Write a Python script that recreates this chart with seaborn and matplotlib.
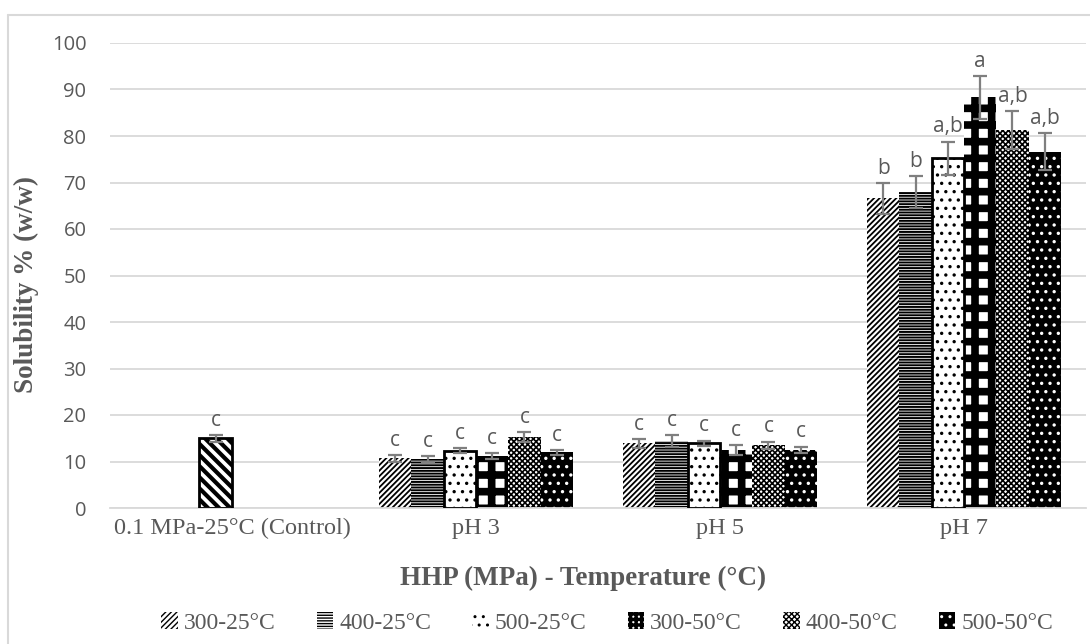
import matplotlib
matplotlib.use("Agg")
import matplotlib.pyplot as plt
import matplotlib.lines as mlines
import matplotlib.patches as mpatches
import seaborn as sns
import pandas as pd
import numpy as np

# ---------------- data ----------------
categories = ["0.1 MPa-25°C (Control)", "pH 3", "pH 5", "pH 7"]
treatments = ["300-25°C", "400-25°C", "500-25°C", "300-50°C", "400-50°C", "500-50°C"]

control_series = ["Control", "(empty)"]
control_value = [15.0]
control_err = [0.7]
control_letter = ["c"]

ph3 = [10.7, 10.5, 12.3, 11.2, 15.3, 12.0]
ph3_err = [0.7, 0.6, 0.5, 0.6, 1.0, 0.5]
ph3_letters = ["c", "c", "c", "c", "c", "c"]

ph5 = [13.9, 14.4, 13.9, 12.5, 13.5, 12.5]
ph5_err = [0.9, 1.3, 0.6, 1.0, 0.8, 0.7]
ph5_letters = ["c", "c", "c", "c", "c", "c"]

ph7 = [66.6, 68.0, 75.2, 88.3, 81.3, 76.6]
ph7_err = [3.3, 3.4, 3.6, 4.6, 4.1, 4.0]
ph7_letters = ["b", "b", "a,b", "a", "a,b", "a,b"]

yticks = [0, 10, 20, 30, 40, 50, 60, 70, 80, 90, 100]

# ---------------- styles ----------------
GRAY_TXT = "#595959"
GRID = "#d9d9d9"
ERR = "#7f7f7f"
SERIF = ["Liberation Serif", "DejaVu Serif"]
SANS = ["Open Sans", "DejaVu Sans"]

# face, hatch colour, hatch, outline, hatch lw, legend hatch, legend hatch lw
styles = {
    "300-25°C": ("white", "black", "//////", False, 1.3, "//////", 1.0),
    "400-25°C": ("white", "black", "------", False, 1.4, "------", 1.0),
    "500-25°C": ("white", "black", "..", True, 1.2, "..", 1.0),
    "300-50°C": ("white", "black", "+", False, 5.5, "+++", 2.5),
    "400-50°C": ("white", "black", "xxxxxx", False, 1.2, "xxxxxx", 1.0),
    "500-50°C": ("black", "white", "..", False, 1.2, "..", 1.0),
}
control_style = ("white", "black", "\\\\\\", True, 3.0, "\\\\\\", 2.0)

sns.set_theme(style="white")
plt.rcParams["hatch.linewidth"] = 1.2


def apply_style(p, style):
    face, hcol, hatch, outline, hlw, _, _ = style
    p.set_facecolor(face)
    p.set_edgecolor(hcol)
    p.set_hatch(hatch)
    p.set_linewidth(0)
    if hasattr(p, "set_hatch_linewidth"):
        p.set_hatch_linewidth(hlw)
    if outline:
        ax.add_patch(mpatches.Rectangle((p.get_x(), 0), p.get_width(), p.get_height(),
                                        fill=False, edgecolor="black", linewidth=2,
                                        zorder=3))


rows = []
for cat, vals in zip(categories[1:], [ph3, ph5, ph7]):
    for t, v in zip(treatments, vals):
        rows.append({"cat": cat, "treat": t, "val": v})
df = pd.DataFrame(rows)
df_ctrl = pd.DataFrame({"cat": [categories[0]], "series": [control_series[0]],
                        "val": control_value})

fig = plt.figure(figsize=(10.9, 6.44), dpi=100)
ax = fig.add_axes([110 / 1090, 1 - 508 / 644, 976 / 1090, 465 / 644])

sns.barplot(data=df, x="cat", y="val", hue="treat", order=categories,
            hue_order=treatments, width=0.795, errorbar=None, ax=ax,
            linewidth=0, legend=False)
n_main = len(ax.containers)
sns.barplot(data=df_ctrl, x="cat", y="val", hue="series", order=categories,
            hue_order=control_series, width=0.27, errorbar=None, ax=ax,
            linewidth=0, legend=False, dodge=True)
ctrl_cont = ax.containers[n_main]

for t, cont in zip(treatments, ax.containers[:n_main]):
    for p in cont.patches:
        apply_style(p, styles[t])
for p in ctrl_cont.patches:
    apply_style(p, control_style)


def mark(p, v, e, l):
    xc = p.get_x() + p.get_width() / 2
    ax.errorbar(xc, v, yerr=e, fmt="none", ecolor=ERR, elinewidth=1.6,
                capsize=5, capthick=1.6, zorder=5)
    ax.annotate(l, (xc, v + e), xytext=(0, 3), textcoords="offset points",
                ha="center", va="bottom", fontsize=15, color=GRAY_TXT, family=SANS)


per_series = list(zip(zip(ph3, ph5, ph7), zip(ph3_err, ph5_err, ph7_err),
                      zip(ph3_letters, ph5_letters, ph7_letters)))
for cont, (vals, errs, lets) in zip(ax.containers[:n_main], per_series):
    present = [p for p in cont.patches if np.isfinite(p.get_height()) and p.get_height() > 0]
    for p, v, e, l in zip(present, vals, errs, lets):
        mark(p, v, e, l)
for p, v, e, l in zip(ctrl_cont.patches, control_value, control_err, control_letter):
    mark(p, v, e, l)

# axes
ax.set_xlim(-0.5, len(categories) - 0.5)
ax.set_ylim(0, 100)
ax.set_yticks(yticks)
ax.yaxis.grid(True, color=GRID, linewidth=1.3)
ax.set_axisbelow(True)
for s in ["top", "right", "left"]:
    ax.spines[s].set_visible(False)
ax.spines["bottom"].set_color(GRID)
ax.spines["bottom"].set_linewidth(1.3)
ax.tick_params(axis="both", length=0)
ax.tick_params(axis="y", pad=17, labelsize=14.5, labelcolor=GRAY_TXT)
ax.tick_params(axis="x", pad=7, labelsize=17.5, labelcolor=GRAY_TXT)
for lab in ax.get_yticklabels():
    lab.set_family(SANS)
for lab in ax.get_xticklabels():
    lab.set_family(SERIF)

ax.set_xlabel("HHP (MPa) - Temperature (°C)", fontsize=19.5, fontweight="bold",
              family=SERIF, color=GRAY_TXT, labelpad=20)
ax.xaxis.set_label_coords(0.485, -0.125)
ax.set_ylabel("Solubility % (w/w)", fontsize=19.5, fontweight="bold",
              family=SERIF, color=GRAY_TXT, labelpad=3)
ax.yaxis.set_label_coords(-0.073, 0.48)

# legend
handles = []
for t in treatments:
    face, hcol, hatch, outline, hlw, lhatch, lhlw = styles[t]
    h = mpatches.Patch(facecolor=face, edgecolor=hcol, hatch=lhatch, linewidth=0)
    handles.append(h)
leg = fig.legend(handles, treatments, loc="center", bbox_to_anchor=(0.557, 1 - 623 / 644),
                 ncol=6, frameon=False, prop={"family": SERIF, "size": 17},
                 handlelength=0.7, handleheight=0.7, handletextpad=0.25,
                 columnspacing=1.75)
for txt in leg.get_texts():
    txt.set_color(GRAY_TXT)
for h, t in zip(leg.legend_handles, treatments):
    if hasattr(h, "set_hatch_linewidth"):
        h.set_hatch_linewidth(styles[t][6])

# chart-area border (left and top visible)
fig.add_artist(mlines.Line2D([8 / 1090, 8 / 1090], [0, 1 - 15 / 644], color=GRID,
                             linewidth=1.5, transform=fig.transFigure))
fig.add_artist(mlines.Line2D([8 / 1090, 1], [1 - 15 / 644, 1 - 15 / 644], color=GRID,
                             linewidth=1.5, transform=fig.transFigure))

fig.savefig("out.png", dpi=100, facecolor="white")
